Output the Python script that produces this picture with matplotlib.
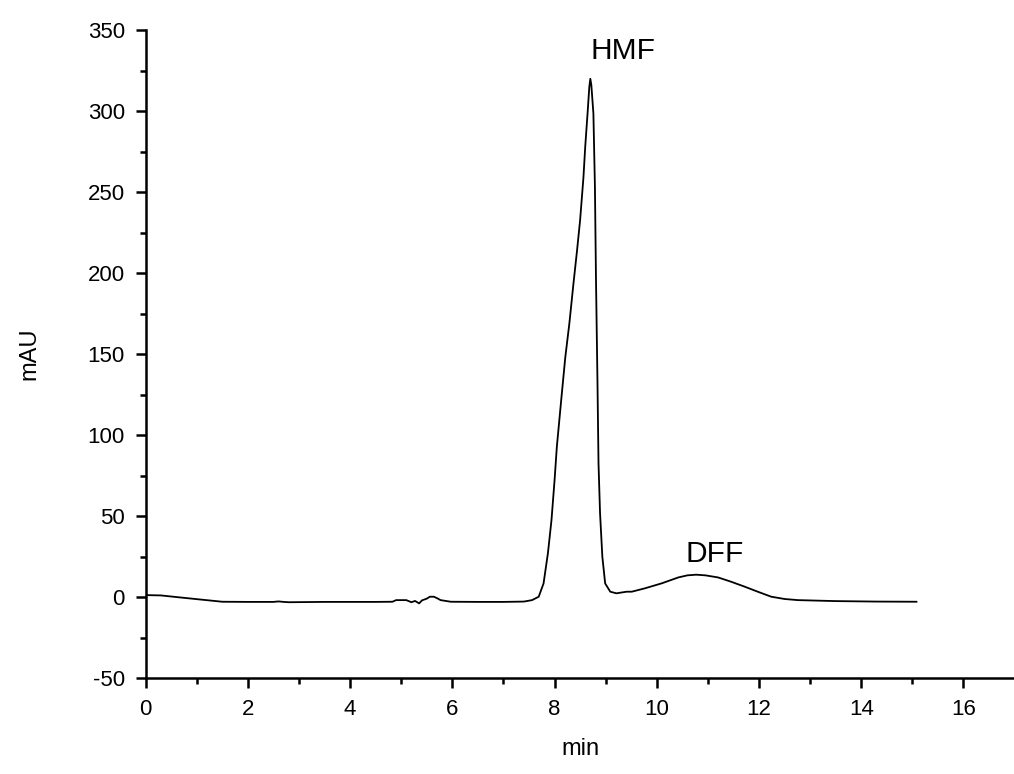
import numpy as np
import matplotlib.pyplot as plt
from matplotlib.ticker import MultipleLocator

plt.rcParams['font.family'] = ['Liberation Sans', 'DejaVu Sans']
plt.rcParams['axes.unicode_minus'] = False

# chromatogram trace (min, mAU)
t_min = [0, 0.3, 0.6, 1.0, 1.5, 2.0, 2.5, 2.6, 2.7, 2.8, 3.5, 4.0, 4.5, 4.83, 4.9,
         5.1, 5.2, 5.27, 5.35, 5.41, 5.5, 5.56, 5.64, 5.72, 5.77, 5.97, 6.5, 7.0,
         7.4, 7.56, 7.69, 7.785, 7.87, 7.94, 8.0, 8.045, 8.13, 8.21, 8.29, 8.37,
         8.44, 8.50, 8.565, 8.60, 8.65, 8.68, 8.70, 8.72, 8.76, 8.79, 8.81, 8.84,
         8.86, 8.89, 8.935, 8.99, 9.09, 9.21, 9.41, 9.51, 9.77, 10.1, 10.42, 10.6,
         10.77, 10.95, 11.2, 11.45, 11.72, 12.0, 12.24, 12.5, 12.76, 13.5, 14.3, 15.08]
signal = [1.2, 1.0, 0.0, -1.3, -2.9, -3.0, -3.0, -2.7, -3.0, -3.2, -3.0, -3.0, -3.0,
          -2.9, -1.9, -1.9, -3.2, -2.4, -3.9, -2.0, -1.0, 0.2, 0.2, -1.0, -1.9, -2.9,
          -3.0, -3.0, -2.8, -1.9, 0.2, 8.4, 27, 47.5, 72, 92.8, 121.6, 148, 169,
          193.6, 214, 232.7, 259, 278, 300.6, 315, 320, 316, 298.6, 253, 197.7, 132,
          82.5, 51.8, 24.9, 8.4, 3.3, 2.3, 3.3, 3.3, 5.4, 8.5, 12.1, 13.4,
          13.8, 13.4, 12.1, 9.5, 6.4, 3.0, 0.2, -1.2, -1.9, -2.5, -2.8, -2.9]

peak_names = ["HMF", "DFF"]
peak_pos = [(9.33, 337), (11.13, 26.5)]

fig = plt.figure(figsize=(10.14, 7.74), dpi=100)
ax = fig.add_axes([0.1436, 0.124, 0.857, 0.837])

ax.plot(t_min, signal, color="black", lw=1.3)
for name, (px, py) in zip(peak_names, peak_pos):
    ax.text(px, py, name, fontsize=21.5, ha="center", va="center")

ax.set_xlim(0, 17)
ax.set_ylim(-50, 350)
ax.xaxis.set_major_locator(MultipleLocator(2))
ax.xaxis.set_minor_locator(MultipleLocator(1))
ax.yaxis.set_major_locator(MultipleLocator(50))
ax.yaxis.set_minor_locator(MultipleLocator(25))

for s in ["top", "right"]:
    ax.spines[s].set_visible(False)
for s in ["left", "bottom"]:
    ax.spines[s].set_linewidth(1.8)

ax.tick_params(which="major", length=7, width=1.8, labelsize=16, pad=8)
ax.tick_params(which="minor", length=4.5, width=1.8)

ax.set_xlabel("min", fontsize=17, labelpad=13)
ax.set_ylabel("mAU", fontsize=17, labelpad=34)

fig.savefig("out.png", dpi=100)
